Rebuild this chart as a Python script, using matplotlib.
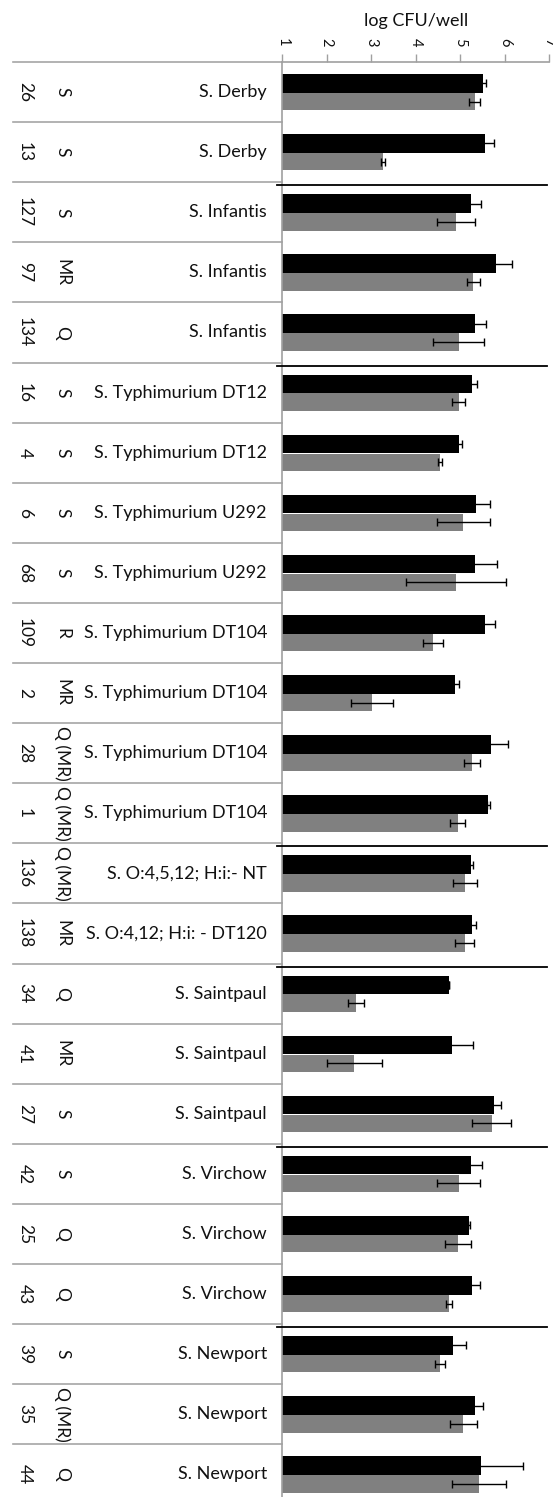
import matplotlib
matplotlib.use("Agg")
import matplotlib.pyplot as plt
from matplotlib.transforms import blended_transform_factory
import numpy as np

# strain table
strain_no = ["26", "13", "127", "97", "134", "16", "4", "6", "68", "109", "2", "28",
             "1", "136", "138", "34", "41", "27", "42", "25", "43", "39", "35", "44"]
resistance = ["S", "S", "S", "MR", "Q", "S", "S", "S", "S", "R", "MR", "Q (MR)",
              "Q (MR)", "Q (MR)", "MR", "Q", "MR", "S", "S", "Q", "Q", "S", "Q (MR)", "Q"]
serovar = ["S. Derby", "S. Derby",
           "S. Infantis", "S. Infantis", "S. Infantis",
           "S. Typhimurium DT12", "S. Typhimurium DT12",
           "S. Typhimurium U292", "S. Typhimurium U292",
           "S. Typhimurium DT104", "S. Typhimurium DT104",
           "S. Typhimurium DT104", "S. Typhimurium DT104",
           "S. O:4,5,12; H:i:- NT", "S. O:4,12; H:i: - DT120",
           "S. Saintpaul", "S. Saintpaul", "S. Saintpaul",
           "S. Virchow", "S. Virchow", "S. Virchow",
           "S. Newport", "S. Newport", "S. Newport"]
# last row index of each serovar group
group_ends = [2, 5, 13, 15, 18, 21]

# log CFU/well, mean and sd
black_mean = [5.52, 5.55, 5.25, 5.81, 5.33, 5.27, 4.97, 5.36, 5.33, 5.56, 4.88, 5.69,
              5.63, 5.24, 5.26, 4.75, 4.81, 5.75, 5.24, 5.19, 5.26, 4.84, 5.32, 5.47]
black_sd = [0.05, 0.21, 0.22, 0.35, 0.25, 0.11, 0.07, 0.30, 0.50, 0.22, 0.08, 0.38,
            0.04, 0.04, 0.10, 0.0, 0.48, 0.16, 0.25, 0.02, 0.19, 0.28, 0.18, 0.95]
grey_mean = [5.32, 3.26, 4.91, 5.29, 4.96, 4.96, 4.54, 5.07, 4.91, 4.39, 3.01, 5.26,
             4.94, 5.10, 5.10, 2.66, 2.62, 5.71, 4.96, 4.94, 4.74, 4.54, 5.07, 5.42]
grey_sd = [0.12, 0.05, 0.43, 0.15, 0.57, 0.14, 0.05, 0.59, 1.12, 0.23, 0.47, 0.18,
           0.17, 0.27, 0.21, 0.18, 0.61, 0.44, 0.49, 0.29, 0.07, 0.11, 0.31, 0.61]

plt.rcParams['font.family'] = ['Lato', 'DejaVu Sans']

W, H = 553, 1497
fig = plt.figure(figsize=(W / 100, H / 100), dpi=100)

n = len(strain_no)
top_px, row_px = 62, 60.1
x0_px, x1_px = 282.3, 549.3
bottom_px = top_px + n * row_px
ax = fig.add_axes([x0_px / W, 1 - bottom_px / H,
                   (x1_px - x0_px) / W, (bottom_px - top_px) / H])

rows = np.arange(n)
err_kw = dict(ecolor="black", capsize=3, elinewidth=1, capthick=1)
ax.barh(rows + 0.355, black_mean, height=0.31, color="black",
        xerr=black_sd, error_kw=err_kw, zorder=2)
ax.barh(rows + 0.66, grey_mean, height=0.29, color="#808080",
        xerr=grey_sd, error_kw=err_kw, zorder=2)

ax.set_xlim(1, 7)
ax.set_ylim(n, 0)
ax.set_yticks([])
ax.xaxis.tick_top()
ax.set_xticks(range(1, 8))
ax.tick_params(axis="x", direction="out", length=6, width=1, color="#a0a0a0",
               labelsize=10.5, labelcolor="#111111", pad=5)
for lab in ax.get_xticklabels():
    lab.set_rotation(-90)
ax.xaxis.set_label_position("top")
ax.set_xlabel("log CFU/well", fontsize=13, labelpad=9, color="#111111")

for side in ["right", "bottom"]:
    ax.spines[side].set_visible(False)
for side in ["top", "left"]:
    ax.spines[side].set_color("#a0a0a0")
    ax.spines[side].set_linewidth(1.2)

# table to the left of the axis, x in figure coords, y in rows
trans = blended_transform_factory(fig.transFigure, ax.transData)
for k in range(n + 1):
    ax.plot([12.7 / W, x0_px / W], [k, k], transform=trans, color="#a6a6a6",
            lw=1.2, clip_on=False)
for k in group_ends:
    ax.plot([277 / W, 547 / W], [k + 0.05, k + 0.05], transform=trans,
            color="black", lw=1.3, clip_on=False, zorder=3)

for i in range(n):
    yc = i + 0.5
    ax.text(25 / W, yc, strain_no[i], transform=trans, rotation=-90,
            ha="center", va="center", fontsize=12.5, color="#111111")
    ax.text(62 / W, yc, resistance[i], transform=trans, rotation=-90,
            ha="center", va="center", fontsize=12.5, color="#111111")
    ax.text(267 / W, yc, serovar[i], transform=trans,
            ha="right", va="center", fontsize=13, color="#111111")

fig.savefig("out.png", dpi=100)
